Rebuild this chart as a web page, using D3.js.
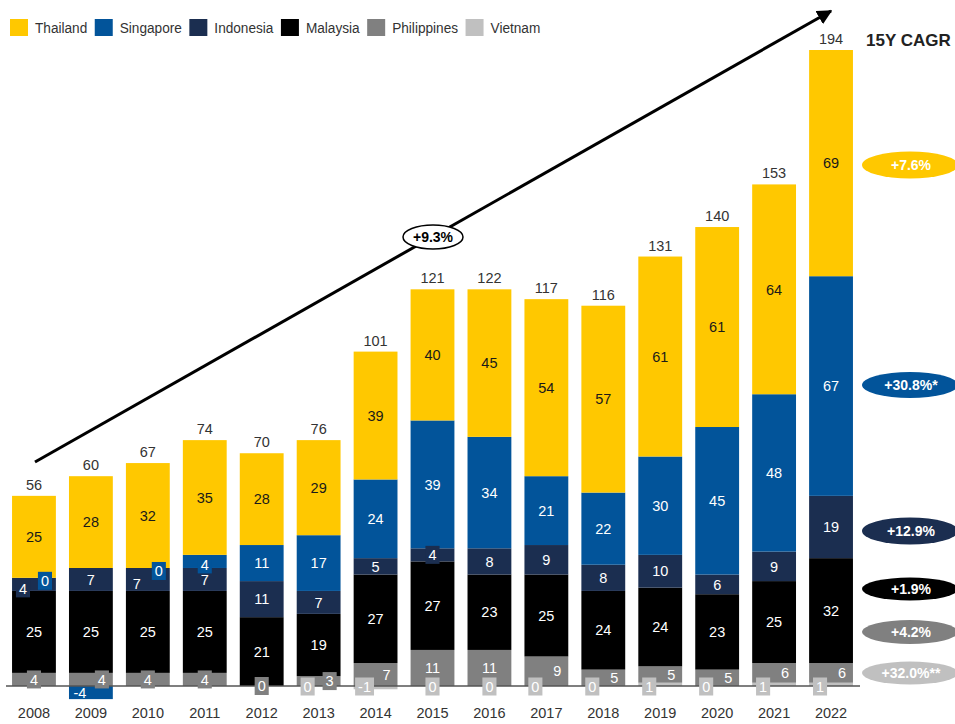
<!DOCTYPE html>
<html>
<head>
<meta charset="utf-8">
<script src="https://cdn.jsdelivr.net/npm/d3@7"></script>
<style>
  html, body { margin: 0; padding: 0; background: #fff; }
  svg { display: block; font-family: "Liberation Sans", Arial, sans-serif; }
</style>
</head>
<body>
<svg id="chart" width="955" height="724"></svg>
<script>
// ---- data ----
const years = ["2008","2009","2010","2011","2012","2013","2014","2015","2016","2017","2018","2019","2020","2021","2022"];
const thailand    = [25, 28, 32, 35, 28, 29, 39, 40, 45, 54, 57, 61, 61, 64, 69];
const singapore   = [0, -4, 0, 4, 11, 17, 24, 39, 34, 21, 22, 30, 45, 48, 67];
const indonesia   = [4, 7, 7, 7, 11, 7, 5, 4, 8, 9, 8, 10, 6, 9, 19];
const malaysia    = [25, 25, 25, 25, 21, 19, 27, 27, 23, 25, 24, 24, 23, 25, 32];
const philippines = [4, 4, 4, 4, 0, 3, 7, 11, 11, 9, 5, 5, 5, 6, 6];
const vietnam     = [null, null, null, null, null, 0, -1, 0, 0, 0, 0, 1, 0, 1, 1];
const totals      = [56, 60, 67, 74, 70, 76, 101, 121, 122, 117, 116, 131, 140, 153, 194];
const seriesNames = ["Thailand", "Singapore", "Indonesia", "Malaysia", "Philippines", "Vietnam"];
const cagrLabels  = ["+7.6%", "+30.8%*", "+12.9%", "+1.9%", "+4.2%", "+32.0%**"];
const totalCagr   = "+9.3%";
const cagrTitle   = "15Y CAGR";

// ---- styling ----
const colors = {
  Thailand: "#FFC800", Singapore: "#02549A", Indonesia: "#1B2E50",
  Malaysia: "#000000", Philippines: "#808080", Vietnam: "#C0C0C0"
};
const values = {
  Thailand: thailand, Singapore: singapore, Indonesia: indonesia,
  Malaysia: malaysia, Philippines: philippines, Vietnam: vietnam
};
// stacking order, bottom to top
const stackOrder = ["Vietnam", "Philippines", "Malaysia", "Indonesia", "Singapore", "Thailand"];

const svg = d3.select("#chart");
const baseY = 686;

const x = d3.scaleBand().domain(years).range([5.5, 859.5])
  .paddingInner(0.23).paddingOuter(0.115);
const y = d3.scaleLinear().domain([0, d3.max(totals)]).range([baseY, 50]);
const bw = x.bandwidth();

const rows = years.map((yr, i) => {
  const r = { year: yr };
  stackOrder.forEach(k => r[k] = values[k][i] == null ? 0 : values[k][i]);
  return r;
});
const stacked = d3.stack().keys(stackOrder).offset(d3.stackOffsetDiverging)(rows);

// top of the positive stack beneath a given layer (used to place zero-value labels)
function positiveBelow(layerIndex, i) {
  let s = 0;
  for (let k = 0; k < layerIndex; k++) s += Math.max(0, rows[i][stackOrder[k]]);
  return s;
}

// ---- bars ----
const gBars = svg.append("g");
stacked.forEach(layer => {
  gBars.selectAll(null).data(layer).join("rect")
    .attr("x", d => x(d.data.year))
    .attr("width", bw)
    .attr("y", d => y(Math.max(d[0], d[1])))
    .attr("height", d => Math.abs(y(d[0]) - y(d[1])))
    .attr("fill", colors[layer.key]);
});

// baseline
svg.append("line")
  .attr("x1", 6).attr("x2", 860)
  .attr("y1", y(0)).attr("y2", y(0))
  .attr("stroke", "#555").attr("stroke-width", 1.5);

// ---- segment labels ----
const gLab = svg.append("g");
function addLabel(cx, cy, txt, fill, boxFill) {
  const g = gLab.append("g");
  const t = g.append("text")
    .attr("x", cx).attr("y", cy).attr("dy", "0.36em")
    .attr("text-anchor", "middle")
    .attr("font-size", 14.5)
    .attr("fill", fill)
    .text(txt);
  if (boxFill) {
    const w = t.node().getComputedTextLength() + 6;
    g.insert("rect", "text")
      .attr("x", cx - w / 2).attr("y", cy - 9)
      .attr("width", w).attr("height", 18)
      .attr("fill", boxFill);
  }
}

stacked.forEach((layer, li) => {
  const key = layer.key;
  layer.forEach((d, i) => {
    const v = values[key][i];
    if (v == null) return;
    const center = x(d.data.year) + bw / 2;
    let cx = center;
    let cy = v === 0 ? y(positiveBelow(li, i)) : (y(d[0]) + y(d[1])) / 2;
    let boxed = false;
    let fill = "#fff";
    if (key === "Thailand") {
      fill = "#1a1a1a";
    } else if (key === "Singapore") {
      if (v === 0) { cx += 11; cy += 3; boxed = true; }
      else if (v < 0) { cx -= 11; }
      else if (v < 5) { boxed = true; cy += 3; }
    } else if (key === "Indonesia") {
      if (singapore[i] === 0) { cx -= 11; cy += 4; }
      if (v < 5) boxed = true;
    } else if (key === "Philippines") {
      const crowded = (vietnam[i] != null || singapore[i] < 0) && v < 10;
      if (crowded) cx += 11;
      if (v < 5) boxed = true;
    } else if (key === "Vietnam") {
      if (philippines[i] < 10) cx -= 11;
      cy = y(0) + 0.5;
      boxed = true;
    }
    addLabel(cx, cy, v, fill, boxed ? colors[key] : null);
  });
});

// ---- totals ----
svg.append("g").selectAll("text").data(stacked[stacked.length - 1]).join("text")
  .attr("x", d => x(d.data.year) + bw / 2)
  .attr("y", d => y(d[1]) - 6)
  .attr("text-anchor", "middle")
  .attr("font-size", 14.5)
  .attr("fill", "#333")
  .text((d, i) => totals[i]);

// ---- year axis ----
const xAxis = svg.append("g")
  .attr("transform", `translate(0,${baseY + 22})`)
  .call(d3.axisBottom(x).tickSize(0).tickPadding(0));
xAxis.select(".domain").remove();
xAxis.selectAll("text")
  .attr("font-size", 14.5)
  .attr("font-family", "Liberation Sans, Arial, sans-serif")
  .attr("fill", "#333");

// ---- legend (slightly condensed type) ----
const legend = svg.append("g").attr("transform", "translate(10,19)");
const squeeze = 0.88;
let lx = 0;
seriesNames.forEach(name => {
  legend.append("rect")
    .attr("x", lx).attr("y", 0).attr("width", 18).attr("height", 17)
    .attr("fill", colors[name]);
  const t = legend.append("text")
    .attr("transform", `translate(${lx + 25},8.5) scale(${squeeze},1)`)
    .attr("dy", "0.36em")
    .attr("font-size", 15.5).attr("fill", "#333")
    .text(name);
  lx += 25 + t.node().getComputedTextLength() * squeeze + 7.5;
});

// ---- overall growth arrow ----
const defs = svg.append("defs");
defs.append("marker")
  .attr("id", "arrowhead")
  .attr("viewBox", "0 0 10 10")
  .attr("refX", 9).attr("refY", 5)
  .attr("markerWidth", 5).attr("markerHeight", 5)
  .attr("markerUnits", "strokeWidth")
  .attr("orient", "auto")
  .append("path").attr("d", "M0,0 L10,5 L0,10 Z").attr("fill", "#000");

svg.append("line")
  .attr("x1", 35).attr("y1", 462)
  .attr("x2", 831).attr("y2", 11)
  .attr("stroke", "#000").attr("stroke-width", 3)
  .attr("marker-end", "url(#arrowhead)");

svg.append("ellipse")
  .attr("cx", 433).attr("cy", 237).attr("rx", 30).attr("ry", 12)
  .attr("fill", "#fff").attr("stroke", "#000").attr("stroke-width", 1.5);
svg.append("text")
  .attr("x", 433).attr("y", 237).attr("dy", "0.36em")
  .attr("text-anchor", "middle")
  .attr("font-size", 14).attr("font-weight", "bold").attr("fill", "#000")
  .text(totalCagr);

// ---- CAGR badges ----
svg.append("text")
  .attr("x", 866).attr("y", 40).attr("dy", "0.36em")
  .attr("font-size", 17).attr("font-weight", "bold").attr("fill", "#222")
  .text(cagrTitle);

const badgeY = [165, 385, 531, 589, 632, 673];
const badgeRy = [13.5, 13, 13.5, 11.5, 12, 11.5];
const gBadge = svg.append("g");
seriesNames.forEach((name, i) => {
  gBadge.append("ellipse")
    .attr("cx", 910).attr("cy", badgeY[i])
    .attr("rx", 48).attr("ry", badgeRy[i])
    .attr("fill", colors[name]);
  gBadge.append("text")
    .attr("x", 911).attr("y", badgeY[i]).attr("dy", "0.36em")
    .attr("text-anchor", "middle")
    .attr("font-size", 14).attr("font-weight", "bold")
    .attr("fill", "#fff")
    .text(cagrLabels[i]);
});
</script>
</body>
</html>
